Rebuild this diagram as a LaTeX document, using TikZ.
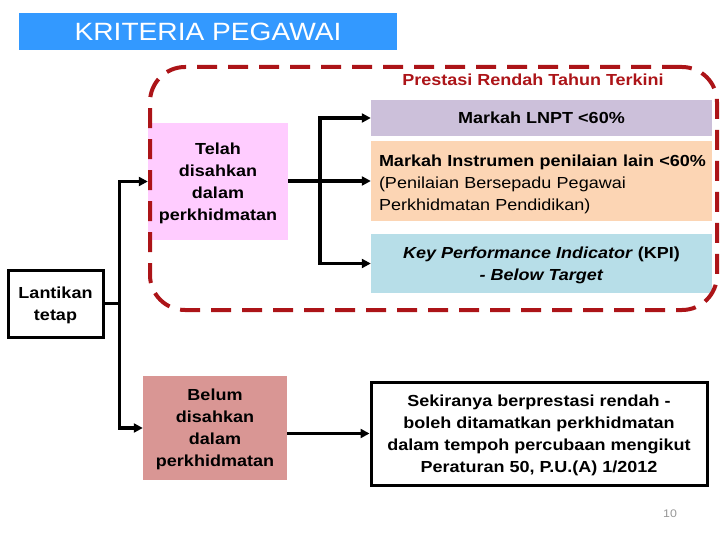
\documentclass[tikz,border=0pt]{standalone}
\usepackage{fontspec}
\setmainfont{Liberation Sans}[FakeStretch=1.125]
\usetikzlibrary{arrows.meta}
\definecolor{titleblue}{RGB}{51,153,255}
\definecolor{darkred}{RGB}{172,20,24}
\definecolor{lnptc}{RGB}{204,192,218}
\definecolor{instc}{RGB}{252,213,180}
\definecolor{kpic}{RGB}{183,222,232}
\definecolor{telahc}{RGB}{255,204,255}
\definecolor{belumc}{RGB}{217,150,148}
\definecolor{pagegray}{RGB}{150,150,150}
\tikzset{
  box/.style={inner sep=0pt, align=center, text depth=-6.5pt, font=\bfseries\fontsize{16}{22}\selectfont},
  blackbox/.style={box, draw=black, line width=3pt, fill=white},
  conn/.style={line width=3.5pt, line join=miter, -{Triangle[length=9pt,width=9pt]}},
  dashbox/.style={draw=darkred, line width=4pt, rounded corners=35pt, dash pattern=on 20pt off 11pt, inner sep=0pt}
}
\begin{document}
\begin{tikzpicture}[x=1pt,y=-1pt]
\useasboundingbox (0,0) rectangle (720,540);
% title
\node[fill=titleblue, text=white, minimum width=378pt, minimum height=37pt, inner sep=0pt,
      font=\fontsize{25}{28}\selectfont] (title) at (208,31.5) {KRITERIA PEGAWAI};
% right boxes
\node[box, fill=lnptc, minimum width=341pt, minimum height=36pt] (lnpt) at (541.5,118) {Markah LNPT <60\%};
\node[fill=instc, minimum width=341pt, minimum height=80pt, inner sep=0pt] (inst) at (541.5,181) {};
\node[text width=325pt, align=left, inner sep=0pt, font=\fontsize{16}{22}\selectfont] (insttext) at (541.5,184)
  {\mbox{\bfseries Markah Instrumen penilaian lain <60\%}\\\mbox{(Penilaian Bersepadu Pegawai}\\\mbox{Perkhidmatan Pendidikan)}};
\node[box, fill=kpic, minimum width=341pt, minimum height=59pt] (kpi) at (541.5,263.5)
  {\textit{Key Performance Indicator} (KPI)\\\textit{- Below Target}};
% left boxes
\node[box, fill=telahc, minimum width=140pt, minimum height=117pt] (telah) at (218,181.5)
  {Telah\\disahkan\\dalam\\perkhidmatan};
\node[box, fill=belumc, minimum width=144pt, minimum height=104pt] (belum) at (215,428)
  {Belum\\disahkan\\dalam\\perkhidmatan};
\node[blackbox, minimum width=95pt, minimum height=67pt] (lantik) at (55.5,303.5) {Lantikan\\tetap};
\node[blackbox, minimum width=336pt, minimum height=103pt] (sek) at (539,433.5)
  {Sekiranya berprestasi rendah -\\boleh ditamatkan perkhidmatan\\dalam tempoh percubaan mengikut\\Peraturan 50, P.U.(A) 1/2012};
% dashed group
\node[dashbox, minimum width=567pt, minimum height=243pt] (grp) at (433.5,188.5) {};
\node[text=darkred, font=\bfseries\fontsize{16}{20}\selectfont, inner sep=0pt] (grplabel) at (533,80) {Prestasi Rendah Tahun Terkini};
% page number
\node[text=pagegray, font=\fontsize{11}{13}\selectfont, inner sep=0pt] (page) at (670,514) {10};
% connectors
\coordinate (j) at (320,181);
\draw[conn] (lantik.east) -- ++(15,0) |- (telah.west);
\draw[conn] (lantik.east) -- ++(15,0) |- (belum.west);
\draw[conn] (telah.east |- inst.west) -- (inst.west);
\draw[conn] (j) |- (lnpt.west);
\draw[conn] (j) |- (kpi.west);
\draw[conn] (belum.east |- sek.west) -- (sek.west);
\end{tikzpicture}
\end{document}
